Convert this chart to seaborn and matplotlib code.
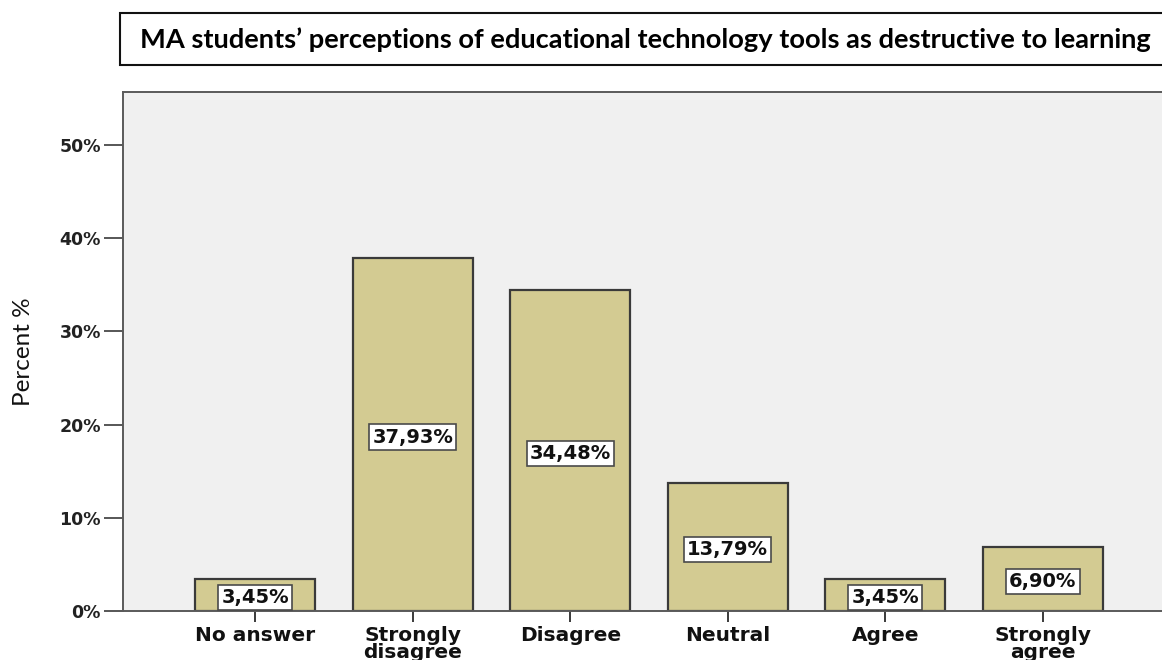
import matplotlib
matplotlib.use("Agg")
import matplotlib.pyplot as plt
from matplotlib.patches import Rectangle
from matplotlib.ticker import FuncFormatter, MultipleLocator
import seaborn as sns
import pandas as pd

categories = ["No answer", "Strongly\ndisagree", "Disagree", "Neutral", "Agree", "Strongly\nagree"]
percent = [3.45, 37.93, 34.48, 13.79, 3.45, 6.90]
value_labels = ["3,45%", "37,93%", "34,48%", "13,79%", "3,45%", "6,90%"]
title = "MA students\u2019 perceptions of educational technology tools as destructive to learning"
y_label = "Percent %"

df = pd.DataFrame({"category": categories, "percent": percent})

sns.set_style("white")
plt.rcParams["font.family"] = ["DejaVu Sans"]

W, H = 1162, 660
fig = plt.figure(figsize=(W / 100, H / 100), dpi=100)

# plot area; its right side runs past the figure edge
ax_left, ax_top, ax_bottom = 123, 92, 611
ax_right = 1175
ax = fig.add_axes([ax_left / W, 1 - ax_bottom / H, (ax_right - ax_left) / W, (ax_bottom - ax_top) / H])
ax.set_facecolor("#F0F0F0")

sns.barplot(data=df, x="category", y="percent", ax=ax, color="#D3CB92",
            edgecolor="#3a3a3a", linewidth=1.6, width=0.76, saturation=1)

ax.set_ylim(0, 55.7)
ax.set_xlim(-0.84, 5.84)
ax.yaxis.set_major_locator(MultipleLocator(10))
ax.yaxis.set_major_formatter(FuncFormatter(lambda v, p: f"{v:.0f}%"))

for s in ["left", "bottom", "top", "right"]:
    ax.spines[s].set_color("#5a5a5a")
    ax.spines[s].set_linewidth(1.4)

ax.tick_params(axis="y", direction="out", length=14, width=1.2, color="#3a3a3a",
               labelsize=12.5, pad=2, left=True)
ax.tick_params(axis="x", direction="out", length=8, width=1.4, color="#3a3a3a",
               labelsize=14.5, pad=3, bottom=True)
for lab in ax.get_yticklabels():
    lab.set_fontweight("bold")
    lab.set_color("#222222")
for lab in ax.get_xticklabels():
    lab.set_fontweight("bold")
    lab.set_color("#111111")
    lab.set_linespacing(0.85)

ax.set_xlabel("")
ax.set_ylabel(y_label, family=["Lato", "DejaVu Sans"], fontsize=17.5,
              color="#111111", labelpad=18)

# value boxes in the middle of each bar
for i, (v, txt) in enumerate(zip(percent, value_labels)):
    ax.text(i, max(v / 2 - 0.3, 1.45), txt, ha="center", va="center",
            fontsize=14, fontweight="bold", color="#111111",
            bbox=dict(boxstyle="square,pad=0.16", facecolor="white",
                      edgecolor="#4a4a4a", linewidth=1.2))

# framed title strip at the top
fig.patches.append(Rectangle((120 / W, 1 - 65 / H), 1.1, 52 / H, transform=fig.transFigure,
                             facecolor="white", edgecolor="#111111", linewidth=1.5))
fig.text(140 / W, 1 - 40 / H, title, ha="left", va="center", fontsize=19.6, fontweight="bold",
         family=["Lato", "DejaVu Sans"], color="#000000")

fig.savefig("out.png", dpi=100, facecolor="white")
